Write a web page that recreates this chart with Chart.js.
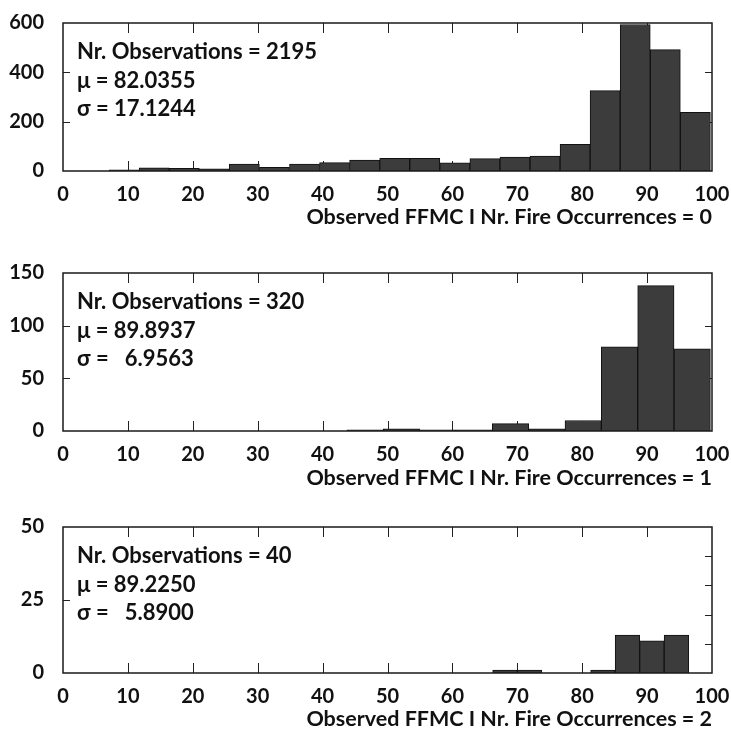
<!DOCTYPE html>
<html>
<head>
    <meta charset="utf-8">
    <title>Observed FFMC</title>
    <script src="https://cdn.jsdelivr.net/npm/chart.js"></script>
    <style>
        body {
            margin: 0;
            background: #fff;
            width: 731px;
            height: 740px;
            position: relative;
            overflow: hidden;
        }

        .panel {
            position: absolute;
            left: 0;
            width: 731px;
        }
    </style>
</head>
<body>
    <div class="panel" style="top:0px;height:240px"><canvas id="c0" width="731" height="240"></canvas></div>
    <div class="panel" style="top:250px;height:250px"><canvas id="c1" width="731" height="250"></canvas></div>
    <div class="panel" style="top:500px;height:240px"><canvas id="c2" width="731" height="240"></canvas></div>

    <script>
        // bin edges (FFMC) and counts
        const edges0 = [7.1, 11.73, 16.37, 21.0, 25.63, 30.26, 34.9, 39.53, 44.16, 48.79, 53.43, 58.06, 62.69, 67.32, 71.96, 76.59, 81.22, 85.85, 90.49, 95.12, 99.75];
        const counts0 = [5, 13, 11, 9, 28, 15, 28, 34, 44, 51, 51, 33, 50, 56, 60, 108, 326, 594, 492, 238];

        const edges1 = [43.75, 49.35, 54.95, 60.55, 66.15, 71.75, 77.35, 82.95, 88.55, 94.15, 99.75];
        const counts1 = [1, 2, 1, 1, 7, 2, 10, 80, 138, 78];

        const edges2 = [66.2, 69.98, 73.75, 77.53, 81.3, 85.08, 88.85, 92.63, 96.4];
        const counts2 = [1, 1, 0, 0, 1, 13, 11, 13];

        const stats0 = ['Nr. Observations = 2195', 'μ = 82.0355', 'σ = 17.1244'];
        const stats1 = ['Nr. Observations = 320', 'μ = 89.8937', 'σ =   6.9563'];
        const stats2 = ['Nr. Observations = 40', 'μ = 89.2250', 'σ =   5.8900'];

        const titles = [
            'Observed FFMC I Nr. Fire Occurrences = 0',
            'Observed FFMC I Nr. Fire Occurrences = 1',
            'Observed FFMC I Nr. Fire Occurrences = 2'
        ];

        const yMax = [600, 150, 50];
        const yStep = [200, 50, 25];
        const yRightStep = [200, 50, 10];

        const FONT = 'Lato, "DejaVu Sans", sans-serif';

        // frame, inward ticks and the stats text
        const framePlugin = {
            id: 'frame',
            beforeDatasetsDraw(chart, args, opts) {
                const { ctx, chartArea: a, scales: { x, y } } = chart;
                ctx.save();
                ctx.strokeStyle = '#222';
                ctx.lineWidth = 1;
                ctx.beginPath();
                x.ticks.forEach(t => {
                    if (t.value <= x.min || t.value >= x.max) return;
                    const px = Math.round(x.getPixelForValue(t.value)) + 0.5;
                    ctx.moveTo(px, a.top);
                    ctx.lineTo(px, a.top + 10);
                    ctx.moveTo(px, a.bottom);
                    ctx.lineTo(px, a.bottom - 10);
                });
                y.ticks.forEach(t => {
                    if (t.value <= y.min || t.value >= y.max) return;
                    const py = Math.round(y.getPixelForValue(t.value)) + 0.5;
                    ctx.moveTo(a.left, py);
                    ctx.lineTo(a.left + 7, py);
                });
                for (let v = opts.rightStep; v < y.max; v += opts.rightStep) {
                    const py = Math.round(y.getPixelForValue(v)) + 0.5;
                    ctx.moveTo(a.right, py);
                    ctx.lineTo(a.right - 7, py);
                }
                ctx.stroke();
                ctx.restore();
            },
            afterDatasetsDraw(chart, args, opts) {
                const { ctx, chartArea: a } = chart;
                ctx.save();
                ctx.strokeStyle = '#1a1a1a';
                ctx.lineWidth = 1.5;
                ctx.strokeRect(a.left, a.top, a.right - a.left, a.bottom - a.top);
                ctx.fillStyle = '#111';
                ctx.font = 'bold 22px ' + FONT;
                ctx.textBaseline = 'middle';
                ctx.textAlign = 'left';
                opts.lines.forEach((s, i) => {
                    ctx.fillText(s, a.left + 14, a.top + 29 + i * 28.5);
                });
                ctx.restore();
            }
        };

        function makePanel(id, edges, counts, idx, chartTop, chartBottom, canvasH, titlePad) {
            const pts = counts.map((c, i) => ({ x: (edges[i] + edges[i + 1]) / 2, y: c }));
            return new Chart(document.getElementById(id), {
                type: 'bar',
                data: {
                    datasets: [{
                        data: pts,
                        backgroundColor: '#3c3c3c',
                        borderColor: '#111',
                        borderWidth: 1,
                        barPercentage: 1,
                        categoryPercentage: 1
                    }]
                },
                options: {
                    responsive: false,
                    animation: false,
                    layout: { padding: { top: chartTop, right: 19, left: 0, bottom: 0 } },
                    plugins: {
                        legend: { display: false },
                        tooltip: { enabled: false },
                        frame: { lines: [stats0, stats1, stats2][idx], rightStep: yRightStep[idx] }
                    },
                    scales: {
                        x: {
                            type: 'linear',
                            min: 0,
                            max: 100,
                            offset: false,
                            grid: { display: false, offset: false },
                            border: { display: false },
                            ticks: {
                                stepSize: 10,
                                padding: 4,
                                color: '#111',
                                maxRotation: 0,
                                font: { family: FONT, size: 20, weight: 'bold' }
                            },
                            title: {
                                display: true,
                                text: titles[idx],
                                align: 'end',
                                color: '#111',
                                padding: { top: 0, bottom: titlePad },
                                font: { family: FONT, size: 21.5, weight: 'bold' }
                            },
                            afterFit(scale) {
                                scale.height = canvasH - chartBottom;
                                scale.paddingRight = 0;
                                scale.paddingLeft = 0;
                            }
                        },
                        y: {
                            min: 0,
                            max: yMax[idx],
                            grid: { display: false },
                            border: { display: false },
                            ticks: {
                                stepSize: yStep[idx],
                                padding: 11,
                                color: '#111',
                                font: { family: FONT, size: 20, weight: 'bold' }
                            },
                            afterFit(scale) { scale.width = 63; }
                        }
                    }
                },
                plugins: [framePlugin]
            });
        }

        makePanel('c0', edges0, counts0, 0, 13, 171, 240, 10);
        makePanel('c1', edges1, counts1, 1, 23, 181, 250, 9);
        makePanel('c2', edges2, counts2, 2, 27, 173, 240, 8);
    </script>
</body>
</html>
